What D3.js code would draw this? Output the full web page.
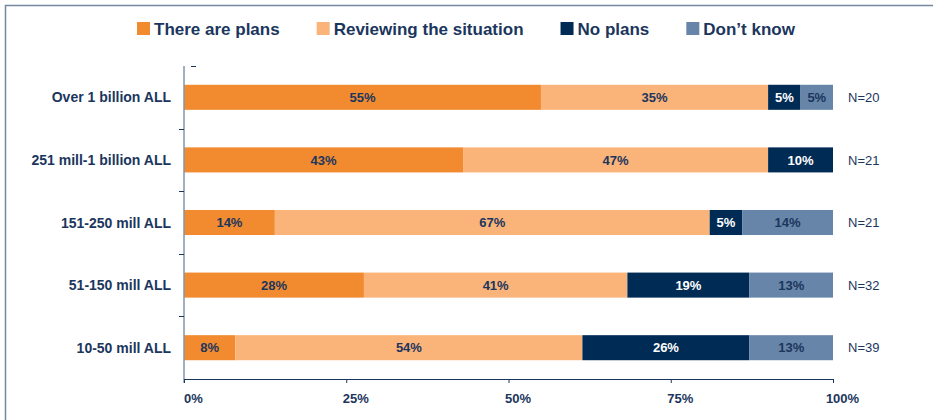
<!DOCTYPE html>
<html>
<head>
<meta charset="utf-8">
<script src="https://cdn.jsdelivr.net/npm/d3@7"></script>
<style>
  html, body { margin: 0; padding: 0; background: #ffffff; }
  svg { display: block; font-family: "Liberation Sans", Arial, sans-serif; }
</style>
</head>
<body>
<svg id="chart" width="933" height="420"></svg>
<script>
// ---- data ----
const categories = ["Over 1 billion ALL", "251 mill-1 billion ALL", "151-250 mill ALL", "51-150 mill ALL", "10-50 mill ALL"];
const seriesNames = ["There are plans", "Reviewing the situation", "No plans", "Don\u2019t know"];
const therePlans = [55, 43, 14, 28, 8];
const reviewing  = [35, 47, 67, 41, 54];
const noPlans    = [5, 10, 5, 19, 26];
const dontKnow   = [5, 0, 14, 13, 13];
const sampleN    = ["N=20", "N=21", "N=21", "N=32", "N=39"];
const xTicks     = [0, 0.25, 0.5, 0.75, 1];
const xTickLabels = ["0%", "25%", "50%", "75%", "100%"];

// ---- style ----
const colors = ["#F28A30", "#FAB47A", "#002B55", "#6685A8"];
const labelColors = ["#1B365D", "#1B365D", "#ffffff", "#1B365D"];
const textColor = "#1B365D";
const axisColor = "#8094AC";

const svg = d3.select("#chart");

// frame
svg.append("path")
  .attr("d", "M5.5,440 L5.5,5.5 L960,5.5")
  .attr("fill", "none")
  .attr("stroke", "#7688A0")
  .attr("stroke-width", 1.5);

const rows = categories.map((c, i) => ({
  cat: c,
  [seriesNames[0]]: therePlans[i],
  [seriesNames[1]]: reviewing[i],
  [seriesNames[2]]: noPlans[i],
  [seriesNames[3]]: dontKnow[i],
  n: sampleN[i]
}));

const stack = d3.stack().keys(seriesNames).offset(d3.stackOffsetExpand);
const stacked = stack(rows);

const axisY = 379;
const x = d3.scaleLinear().domain([0, 1]).range([184, 833]);
const y = d3.scaleBand().domain(categories).range([66, axisY]).paddingInner(0.6).paddingOuter(0.3);

// bars
const groups = svg.append("g").selectAll("g")
  .data(stacked).join("g")
  .attr("fill", (d, i) => colors[i]);

groups.selectAll("rect")
  .data(d => d.map(v => ({ v, key: d.key })))
  .join("rect")
  .attr("x", d => x(d.v[0]))
  .attr("y", d => y(d.v.data.cat))
  .attr("width", d => Math.max(0, x(d.v[1]) - x(d.v[0])))
  .attr("height", y.bandwidth());

// bar labels
stacked.forEach((s, si) => {
  svg.append("g").selectAll("text")
    .data(s.filter(v => v.data[s.key] > 0))
    .join("text")
    .attr("x", v => (x(v[0]) + x(v[1])) / 2)
    .attr("y", v => y(v.data.cat) + y.bandwidth() / 2)
    .attr("dy", "0.36em")
    .attr("text-anchor", "middle")
    .attr("font-size", 13)
    .attr("font-weight", "bold")
    .attr("fill", labelColors[si])
    .text(v => v.data[s.key] + "%");
});

// N labels
svg.append("g").selectAll("text")
  .data(rows).join("text")
  .attr("x", 848)
  .attr("y", d => y(d.cat) + y.bandwidth() / 2)
  .attr("dy", "0.36em")
  .attr("font-size", 13)
  .attr("fill", textColor)
  .text(d => d.n);

// y axis
const yAxisG = svg.append("g");
yAxisG.append("line")
  .attr("x1", 184).attr("x2", 184).attr("y1", 66).attr("y2", axisY + 4)
  .attr("stroke", axisColor).attr("stroke-width", 1.5);
const step = y.step();
categories.slice(0, -1).forEach((c, i) => {
  const yy = Math.round(y(c) + y.bandwidth() / 2 + step / 2) + 0.5;
  yAxisG.append("line")
    .attr("x1", 179).attr("x2", 184).attr("y1", yy).attr("y2", yy)
    .attr("stroke", "#1B365D").attr("stroke-width", 1);
});
yAxisG.append("line")
  .attr("x1", 191).attr("x2", 196).attr("y1", 66.5).attr("y2", 66.5)
  .attr("stroke", "#1B365D").attr("stroke-width", 1);

// category labels
svg.append("g").selectAll("text")
  .data(categories).join("text")
  .attr("x", 171)
  .attr("y", d => y(d) + y.bandwidth() / 2)
  .attr("dy", "0.36em")
  .attr("text-anchor", "end")
  .attr("font-size", 14)
  .attr("font-weight", "bold")
  .attr("fill", textColor)
  .text(d => d);

// x axis
const xAxis = d3.axisBottom(x)
  .tickValues(xTicks)
  .tickFormat((d, i) => xTickLabels[i])
  .tickSizeInner(4).tickSizeOuter(0).tickPadding(11);
const xg = svg.append("g").attr("transform", `translate(0,${axisY})`).call(xAxis);
xg.select(".domain").attr("stroke", "#1B365D").attr("stroke-width", 1.2);
xg.selectAll(".tick line").attr("stroke", "#1B365D");
xg.selectAll(".tick text")
  .attr("dx", 9)
  .attr("font-size", 13)
  .attr("font-weight", "bold")
  .attr("fill", textColor)
  .attr("font-family", "Liberation Sans, Arial, sans-serif");

// legend
const legend = svg.append("g");
let lx = 137;
seriesNames.forEach((name, i) => {
  legend.append("rect")
    .attr("x", lx).attr("y", 22).attr("width", 13).attr("height", 13)
    .attr("fill", colors[i]);
  const t = legend.append("text")
    .attr("x", lx + 17).attr("y", 35)
    .attr("font-size", 17).attr("font-weight", "bold")
    .attr("fill", textColor)
    .text(name);
  lx += 17 + t.node().getComputedTextLength() + 37;
});
</script>
</body>
</html>
